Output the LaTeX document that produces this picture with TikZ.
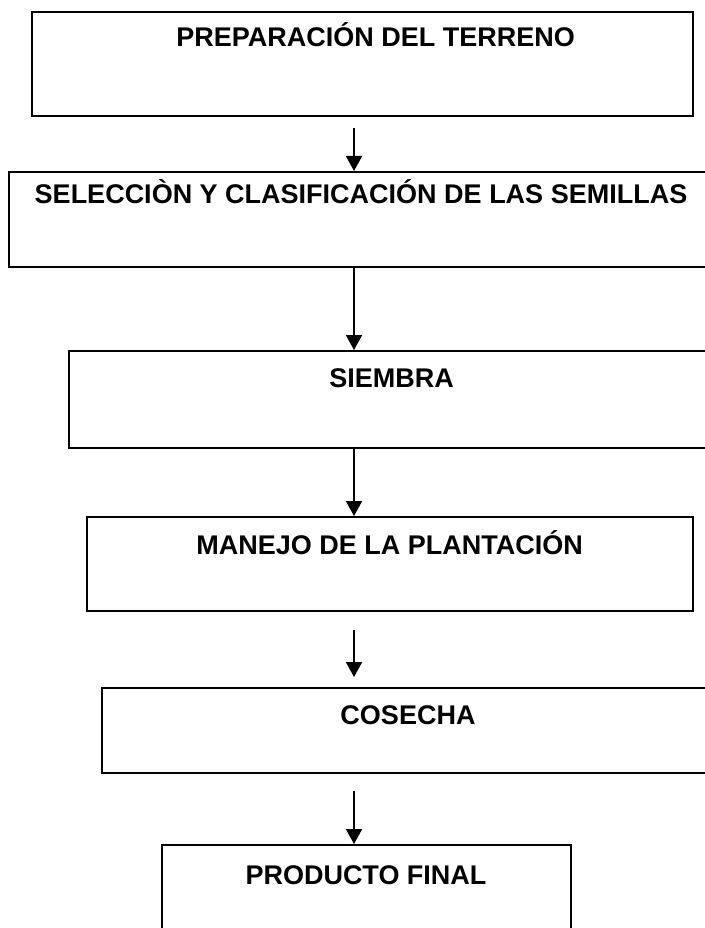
\documentclass[tikz,border=0pt]{standalone}
\usepackage{fontspec}
\setmainfont{Liberation Sans}
\usetikzlibrary{arrows.meta}
\begin{document}
\begin{tikzpicture}[x=1pt,y=-1pt,
  box/.style={draw=black,line width=2pt,fill=none,rectangle,inner sep=0pt},
  lbl/.style={inner sep=0pt,anchor=base,font=\fontsize{27}{31}\selectfont\bfseries},
  arr/.style={line width=2pt,-{Triangle[width=16pt,length=15pt]}}]
\useasboundingbox (0,0) rectangle (704,928);
\fill[white] (0,0) rectangle (704,928);
% boxes
\node[box,minimum width=661pt,minimum height=104pt] (b1) at (362.5,64) {};
\node[box,minimum width=711pt,minimum height=95pt] (b2) at (364.5,219.5) {};
\node[box,minimum width=651pt,minimum height=97pt] (b3) at (394.5,399.5) {};
\node[box,minimum width=606pt,minimum height=94pt] (b4) at (390,564) {};
\node[box,minimum width=618pt,minimum height=85pt] (b5) at (411,730.5) {};
\node[box,minimum width=409pt,minimum height=95pt] (b6) at (366,892.5) {};
% labels
\node[lbl] (t1) at (375.7,47) {PREPARACIÓN DEL TERRENO};
\node[lbl] (t2) at (361,203) {SELECCIÒN Y CLASIFICACIÓN DE LAS SEMILLAS};
\node[lbl] (t3) at (391.6,387.5) {SIEMBRA};
\node[lbl] (t4) at (389.6,554.5) {MANEJO DE LA PLANTACIÓN};
\node[lbl] (t5) at (408,724) {COSECHA};
\node[lbl] (t6) at (366,884) {PRODUCTO FINAL};
% arrows
\coordinate (ax) at (354,0);
\draw[arr,shorten <=10.7pt] (b1.south -| ax) -- (b2.north -| ax);
\draw[arr] (b2.south -| ax) -- (b3.north -| ax);
\draw[arr] (b3.south -| ax) -- (b4.north -| ax);
\draw[arr,shorten <=18pt,shorten >=10pt] (b4.south -| ax) -- (b5.north -| ax);
\draw[arr,shorten <=17pt] (b5.south -| ax) -- (b6.north -| ax);
\end{tikzpicture}
\end{document}
